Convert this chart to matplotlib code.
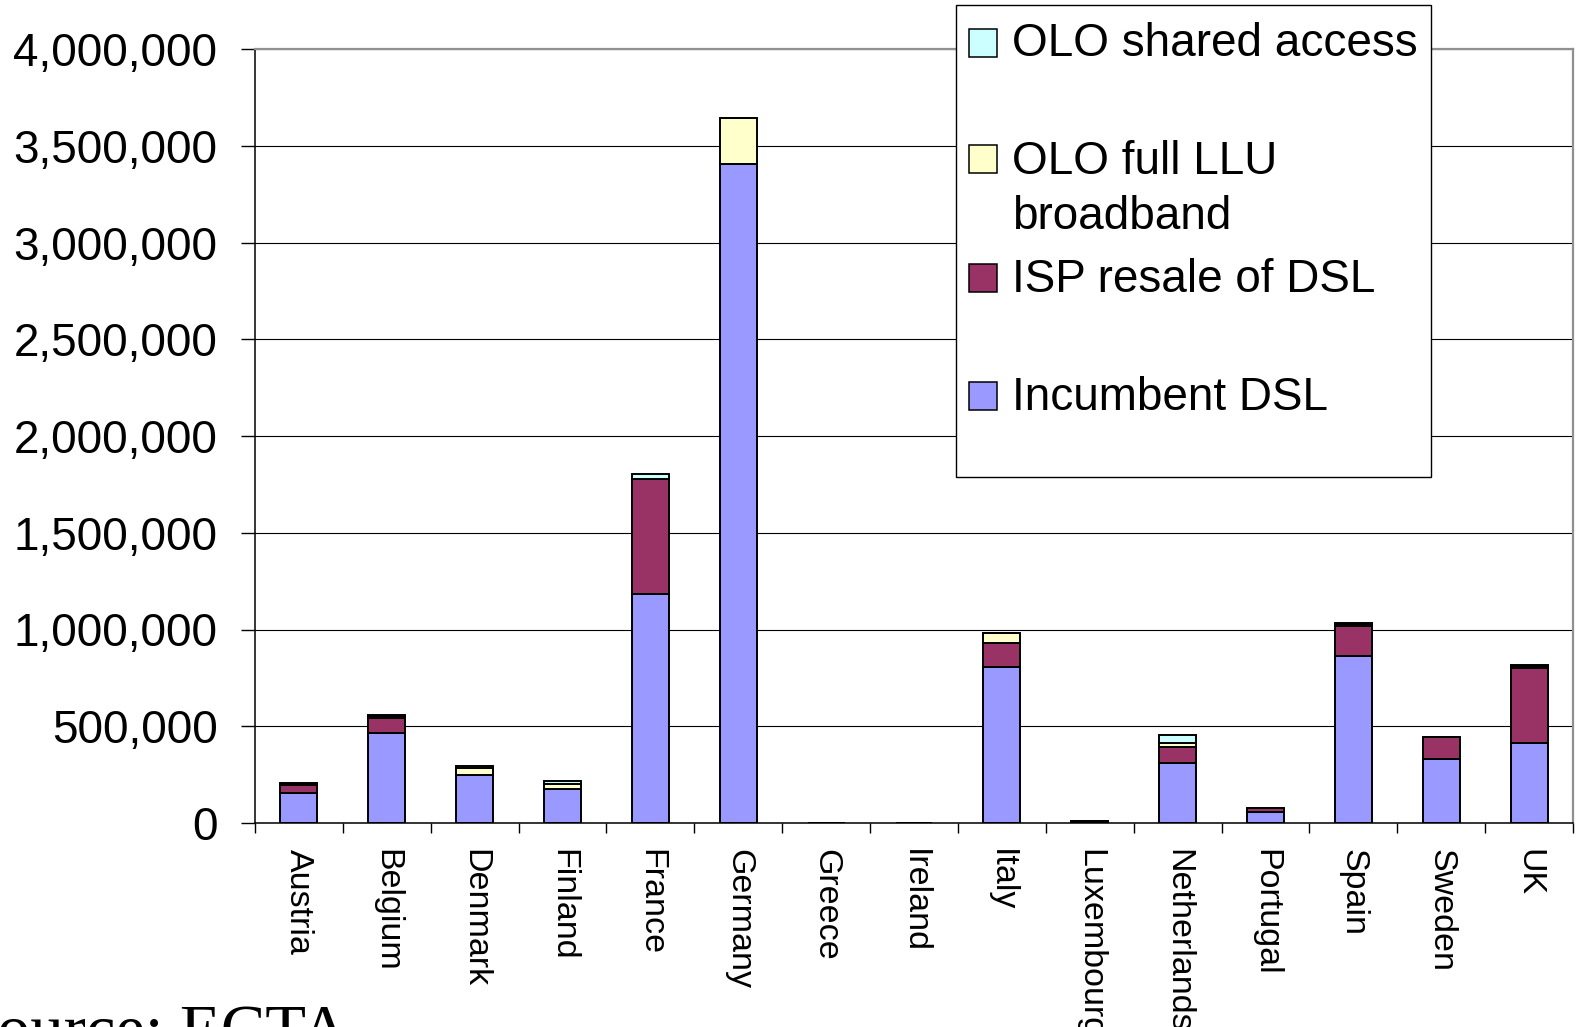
import numpy as np
import matplotlib
matplotlib.use("Agg")
import matplotlib.pyplot as plt
from matplotlib.ticker import FuncFormatter, FixedLocator
from matplotlib.patches import Rectangle

countries = ["Austria", "Belgium", "Denmark", "Finland", "France", "Germany",
             "Greece", "Ireland", "Italy", "Luxembourg", "Netherlands",
             "Portugal", "Spain", "Sweden", "UK"]
incumbent_dsl = [156000, 466000, 247000, 177000, 1181000, 3405000, 0, 0,
                 805000, 6000, 309000, 58000, 865000, 329000, 412000]
isp_resale = [39000, 78000, 0, 0, 599000, 0, 0, 0,
              124000, 4000, 85000, 18000, 153000, 115000, 391000]
olo_full_llu = [8000, 10000, 38000, 27000, 0, 236000, 0, 0,
                55000, 0, 21000, 4000, 8000, 0, 8000]
olo_shared = [4000, 6000, 12000, 12000, 22000, 0, 0, 0,
              0, 0, 40000, 0, 8000, 0, 6000]
series_labels = ["Incumbent DSL", "ISP resale of DSL", "OLO full LLU\nbroadband", "OLO shared access"]
series_colors = ["#9999FF", "#993366", "#FFFFCC", "#CCFFFF"]
yticks = [0, 500000, 1000000, 1500000, 2000000, 2500000, 3000000, 3500000, 4000000]
source_text = "Source: ECTA"

W, H = 1581, 1027
fig = plt.figure(figsize=(W / 100, H / 100), dpi=100)
plt.rcParams['font.family'] = ['Liberation Sans', 'DejaVu Sans']

def fx(px):
    return px / W

def fy(py):
    return 1 - py / H

ax = fig.add_axes([fx(255), fy(823), fx(1573) - fx(255), fy(49) - fy(823)])

x = np.arange(len(countries))
series = [incumbent_dsl, isp_resale, olo_full_llu, olo_shared]
bottom = np.zeros(len(countries))
for vals, col in zip(series, series_colors):
    v = np.array(vals, dtype=float)
    ax.bar(x, v, width=0.42, bottom=bottom, color=col, edgecolor="black",
           linewidth=1.4, zorder=2)
    bottom += v

ax.set_xlim(-0.5, len(countries) - 0.5)
ax.set_ylim(0, 4000000)
ax.set_yticks(yticks)
ax.yaxis.set_major_formatter(FuncFormatter(lambda v, p: f"{v:,.0f}"))
ax.tick_params(axis="y", direction="out", length=10, width=1, pad=17,
               labelsize=33, colors="black")
ax.yaxis.grid(True, color="black", linewidth=0.8)
ax.set_axisbelow(True)

ax.xaxis.set_major_locator(FixedLocator(np.arange(-0.5, len(countries), 1.0)))
ax.xaxis.set_major_formatter(FuncFormatter(lambda v, p: ""))
ax.xaxis.set_minor_locator(FixedLocator(x))
ax.set_xticklabels(countries, minor=True, rotation=270, va="top", ha="center",
                   fontsize=24.5)
ax.tick_params(axis="x", which="major", direction="out", length=7, width=1)
ax.tick_params(axis="x", which="minor", length=0, pad=19)

for s in ["left", "bottom"]:
    ax.spines[s].set_color("black")
    ax.spines[s].set_linewidth(1.1)
for s in ["top", "right"]:
    ax.spines[s].set_color("#909090")
    ax.spines[s].set_linewidth(1.6)

# Legend (manual, to match Excel-style layout)
fig.patches.append(Rectangle((fx(955.5), fy(476.5)), fx(1431) - fx(955.5),
                             fy(5) - fy(476.5), transform=fig.transFigure,
                             facecolor="white", edgecolor="black",
                             linewidth=1.0, zorder=5))
legend_rows = [(3, 28.5, [56.5]), (2, 145, [173.5, 228.5]),
               (1, 263.5, [292.5]), (0, 381.5, [409.5])]
for idx, top_px, baselines in legend_rows:
    fig.patches.append(Rectangle((fx(969), fy(top_px + 28)), fx(28), 28 / H,
                                 transform=fig.transFigure,
                                 facecolor=series_colors[idx], edgecolor="black",
                                 linewidth=1.1, zorder=6))
    for line, bl in zip(series_labels[idx].split("\n"), baselines):
        fig.text(fx(1012), fy(bl), line, fontsize=33, va="baseline",
                 ha="left", zorder=7)

fig.text(fx(-40), fy(1052), source_text, fontsize=48, va="baseline", ha="left",
         family=["Liberation Serif", "DejaVu Serif"])

fig.savefig("out.png", dpi=100)
